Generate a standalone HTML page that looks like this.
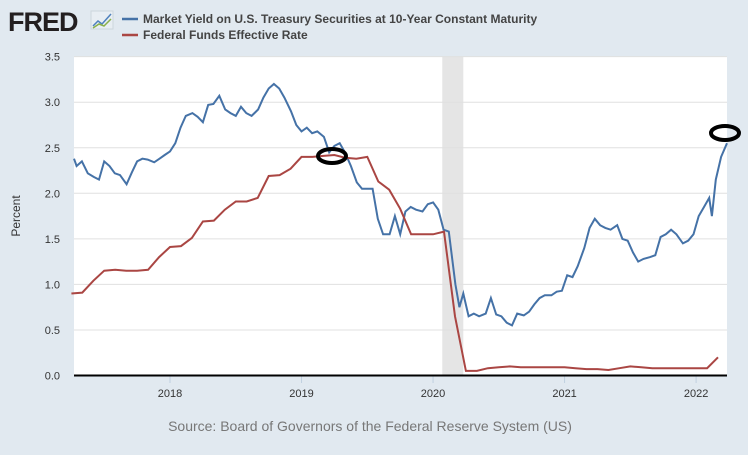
<!DOCTYPE html>
<html><head><meta charset="utf-8"><style>
body{margin:0;background:#e1e9f0;font-family:"Liberation Sans",sans-serif}
svg text{font-family:"Liberation Sans",sans-serif}
</style></head><body>
<svg id="c" width="748" height="450" xmlns="http://www.w3.org/2000/svg">
<rect width="748" height="450" fill="#e1e9f0"/>
<text x="8" y="31" font-size="27" font-weight="bold" fill="#231f20" letter-spacing="-1">FRED</text>
<g><rect x="91" y="11" width="22" height="18" fill="#e8eef3" stroke="#cdd6dd"/><polyline points="93,26 98,21 102,24 111,14" fill="none" stroke="#4f81bd" stroke-width="1.5"/><polyline points="93,28 99,24 104,26 111,19" fill="none" stroke="#8ab04a" stroke-width="1.5"/></g>
<g>
<line x1="122" y1="19" x2="138" y2="19" stroke="#4572a7" stroke-width="2.5"/>
<text x="143" y="23" font-size="12" font-weight="bold" fill="#444">Market Yield on U.S. Treasury Securities at 10-Year Constant Maturity</text>
<line x1="122" y1="35" x2="138" y2="35" stroke="#aa4643" stroke-width="2.5"/>
<text x="143" y="39" font-size="12" font-weight="bold" fill="#444">Federal Funds Effective Rate</text>
</g>
<rect x="74" y="57" width="653" height="318" fill="#fff"/>
<g id="grid"></g><g id="marks"></g>
<text x="20" y="216" font-size="12" fill="#333" transform="rotate(-90 20 216)" text-anchor="middle">Percent</text>
<text x="370" y="431" font-size="14" fill="#777" text-anchor="middle">Source: Board of Governors of the Federal Reserve System (US)</text>
</svg>
<script>
const yTicks=[0,0.5,1,1.5,2,2.5,3,3.5];
const yTickLabels=["0.0","0.5","1.0","1.5","2.0","2.5","3.0","3.5"];
const xTicks=[2018,2019,2020,2021,2022];
const xTickLabels=["2018","2019","2020","2021","2022"];
const recession=[2020.07,2020.23];
const t10=[2017.27,2017.29,2017.33,2017.375,2017.42,2017.46,2017.5,2017.54,2017.58,2017.62,2017.67,2017.71,2017.75,2017.79,2017.83,2017.88,2017.92,2017.96,2018.0,2018.04,2018.08,2018.12,2018.17,2018.21,2018.25,2018.29,2018.33,2018.375,2018.42,2018.46,2018.5,2018.54,2018.58,2018.62,2018.67,2018.71,2018.75,2018.79,2018.83,2018.87,2018.92,2018.96,2019.0,2019.04,2019.08,2019.12,2019.17,2019.21,2019.25,2019.29,2019.33,2019.375,2019.42,2019.46,2019.5,2019.54,2019.58,2019.62,2019.67,2019.71,2019.75,2019.79,2019.83,2019.87,2019.92,2019.96,2020.0,2020.04,2020.08,2020.12,2020.17,2020.2,2020.23,2020.27,2020.31,2020.35,2020.4,2020.44,2020.48,2020.52,2020.56,2020.6,2020.64,2020.69,2020.73,2020.77,2020.81,2020.85,2020.9,2020.94,2020.98,2021.02,2021.06,2021.1,2021.15,2021.19,2021.23,2021.27,2021.31,2021.35,2021.4,2021.44,2021.48,2021.52,2021.56,2021.6,2021.65,2021.69,2021.73,2021.77,2021.81,2021.85,2021.9,2021.94,2021.98,2022.02,2022.06,2022.1,2022.12,2022.15,2022.19,2022.235];
const y10=[2.38,2.30,2.35,2.22,2.18,2.15,2.35,2.30,2.22,2.20,2.10,2.23,2.35,2.38,2.37,2.34,2.38,2.42,2.46,2.55,2.72,2.85,2.88,2.84,2.78,2.97,2.98,3.07,2.92,2.88,2.85,2.95,2.88,2.85,2.92,3.05,3.15,3.20,3.15,3.05,2.90,2.75,2.68,2.72,2.66,2.68,2.62,2.45,2.52,2.55,2.45,2.30,2.12,2.05,2.05,2.05,1.72,1.55,1.55,1.75,1.55,1.80,1.85,1.82,1.80,1.88,1.90,1.82,1.60,1.58,1.00,0.75,0.90,0.65,0.68,0.65,0.68,0.85,0.67,0.65,0.58,0.55,0.68,0.66,0.70,0.78,0.85,0.88,0.88,0.92,0.93,1.10,1.08,1.20,1.40,1.62,1.72,1.65,1.62,1.60,1.65,1.50,1.48,1.35,1.25,1.28,1.30,1.32,1.52,1.55,1.60,1.55,1.45,1.48,1.55,1.75,1.85,1.95,1.75,2.15,2.40,2.55];
const tFF=[];for(let i=0;i<60;i++)tFF.push(2017.25+i/12);
const yFF=[0.90,0.91,1.04,1.15,1.16,1.15,1.15,1.16,1.30,1.41,1.42,1.51,1.69,1.70,1.82,1.91,1.91,1.95,2.19,2.20,2.27,2.40,2.40,2.41,2.42,2.39,2.38,2.40,2.13,2.04,1.83,1.55,1.55,1.55,1.58,0.65,0.05,0.05,0.08,0.09,0.10,0.09,0.09,0.09,0.09,0.09,0.08,0.07,0.07,0.06,0.08,0.10,0.09,0.08,0.08,0.08,0.08,0.08,0.08,0.20];
const X0=74,X1=727,T0=2017.27,T1=2022.235,Y0=375.5,PPU=91.1;
const xs=t=>X0+(t-T0)/(T1-T0)*(X1-X0);
const ys=v=>Y0-v*PPU;
const NS="http://www.w3.org/2000/svg";
const grid=document.getElementById('grid'),marks=document.getElementById('marks');
function mk(tag,attrs,parent){const e=document.createElementNS(NS,tag);for(const k in attrs)e.setAttribute(k,attrs[k]);parent.appendChild(e);return e;}
let r=mk('rect',{x:xs(recession[0]),y:57,width:xs(recession[1])-xs(recession[0]),height:318,fill:'#e5e5e5'},grid);


yTicks.forEach((v,i)=>{
 if(v>0){let l=mk('line',{x1:X0,x2:X1,y1:ys(v),y2:ys(v),stroke:'#e0e0e0','stroke-width':1},grid);
 
 }
 let t=mk('text',{x:60,y:ys(v)+4,'font-size':11,fill:'#333','text-anchor':'end'},grid);t.textContent=yTickLabels[i];
 
 
});
xTicks.forEach((v,i)=>{
 let l=mk('line',{x1:xs(v),x2:xs(v),y1:376,y2:383,stroke:'#c0d0e0'},grid);
 
 
 let t=mk('text',{x:xs(v),y:397,'font-size':11,fill:'#333','text-anchor':'middle'},grid);t.textContent=xTickLabels[i];
 
 
});
const p10=mk('polyline',{points:t10.map((t,i)=>xs(t).toFixed(1)+','+ys(y10[i]).toFixed(1)).join(' '),fill:'none',stroke:'#4572a7','stroke-width':2},marks);


const pff=mk('polyline',{points:tFF.map((t,i)=>xs(t).toFixed(1)+','+ys(yFF[i]).toFixed(1)).join(' '),fill:'none',stroke:'#aa4643','stroke-width':2},marks);


const ax=mk('line',{x1:X0,x2:X1,y1:375.5,y2:375.5,stroke:'#000','stroke-width':2},marks);


[[332,156],[725,133]].forEach(c=>{
 let e=mk('ellipse',{cx:c[0],cy:c[1],rx:14,ry:7,fill:'none',stroke:'#000','stroke-width':4},marks);
 
 
});
</script>
</body></html>
